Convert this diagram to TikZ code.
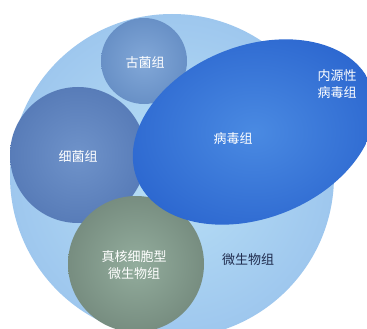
\documentclass[tikz,border=0pt]{standalone}
\usepackage{fontspec}
\newfontfamily\cjk{Noto Sans CJK SC}
\definecolor{bigin}{HTML}{B9E0F6}
\definecolor{bigout}{HTML}{9EC7EE}
\definecolor{archin}{HTML}{82A8D8}
\definecolor{archout}{HTML}{6890C6}
\definecolor{bacin}{HTML}{6F93CA}
\definecolor{bacout}{HTML}{587CB8}
\definecolor{virin}{HTML}{4A8AE2}
\definecolor{virout}{HTML}{2D68D0}
\definecolor{eukin}{HTML}{93AD9D}
\definecolor{eukout}{HTML}{778D80}
\definecolor{darktxt}{HTML}{1F2B4D}
\tikzset{
  lbl/.style={font=\cjk\fontsize{13}{17}\selectfont, text=white, align=center, inner sep=0pt},
  dlbl/.style={font=\cjk\fontsize{13}{17}\selectfont, text=darktxt, align=center, inner sep=0pt}
}
\begin{document}
\begin{tikzpicture}[x=1pt,y=1pt]
\useasboundingbox (0,0) rectangle (367,-329);
\clip (0,0) rectangle (367,-329);
\fill[white] (0,0) rectangle (367,-329);
% big microbiome circle
\shade[inner color=bigin, outer color=bigout] (172,-176) circle [radius=162];
% archaea
\shade[inner color=archin, outer color=archout] (144,-61) circle [radius=43];
% bacteria
\shade[inner color=bacin, outer color=bacout] (78,-155) circle [radius=68];
% eukaryote
\shade[inner color=eukin, outer color=eukout] (136,-264) circle [radius=68];
% virome ellipse
\shade[inner color=virin, outer color=virout, rotate around={22:(254,-132)}] (254,-132) ellipse [x radius=126, y radius=86];
% labels
\node[lbl] (arch) at (145,-63) {古菌组};
\node[lbl] (bac) at (78,-157) {细菌组};
\node[lbl] (vir) at (233,-139) {病毒组};
\node[lbl] (endo) at (337,-84) {内源性\\病毒组};
\node[lbl] (euk) at (134,-265) {真核细胞型\\微生物组};
\node[dlbl] (micro) at (248,-260) {微生物组};
\end{tikzpicture}
\end{document}
